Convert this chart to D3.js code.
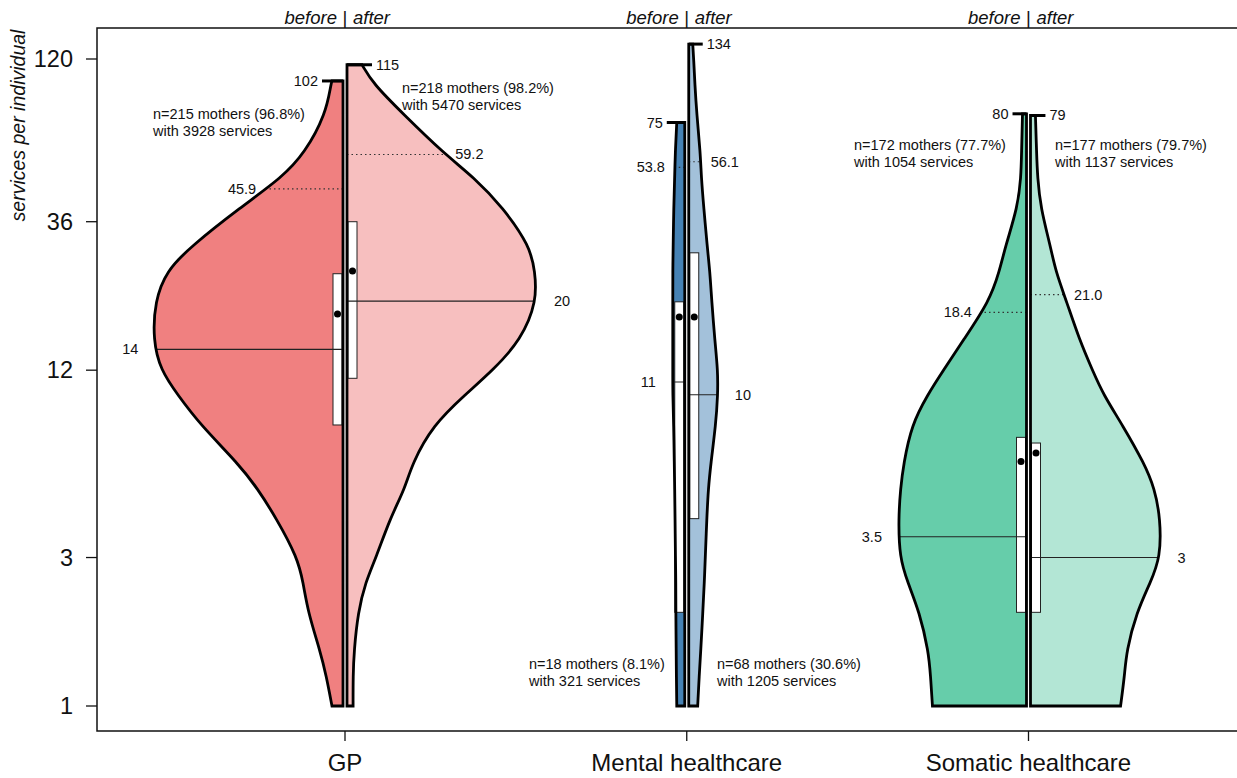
<!DOCTYPE html>
<html><head><meta charset="utf-8">
<script src="https://cdn.jsdelivr.net/npm/d3@7"></script>
<style>body{margin:0;background:#fff} text{font-family:"Liberation Sans",Arial,sans-serif;fill:#111}</style>
</head><body><svg id="c" width="1237" height="778"></svg>
<script>
// ---------------- data ----------------
const categories = ["GP", "Mental healthcare", "Somatic healthcare"];
const periods = ["before", "after"];
const yTicks = [1, 3, 12, 36, 120];
// service levels at which the density of each half-violin was read
const levels = [1, 1.25, 1.5, 2, 2.5, 3, 4, 5, 6, 8, 10, 12, 15, 20, 25, 30, 40, 50, 60, 80, 100, 120];
// relative density (percent of widest half-violin) at each level, up to the maximum value
const densGPBefore = [5.8, 8.8, 12, 18.4, 21, 24, 35, 45, 55, 75, 87, 96, 100, 99, 93, 80, 54, 32, 20, 9, 6.3];
const densGPAfter  = [3.2, 3.2, 3.7, 5.8, 9.7, 15.3, 22.6, 30.5, 34.2, 45.3, 62.1, 76.8, 91.6, 100, 98.9, 96.3, 82.1, 66.8, 50.5, 29.5, 13.7];
const densMHBefore = [4.2, 4.4, 4.5, 4.7, 4.7, 4.9, 5.1, 5.3, 5.5, 5.8, 6.3, 6.3, 6.3, 6.3, 6.3, 6.1, 5.8, 5.3, 5.0];
const densMHAfter  = [4.7, 5.5, 6.3, 7.4, 8.2, 8.7, 9.5, 10.3, 11.6, 14.2, 15.3, 15.3, 13.7, 12.1, 11.1, 9.7, 7.9, 6.6, 6.1, 4.2, 3.2, 2.6];
const densSHBefore = [49.5, 50.5, 51.6, 56.3, 62.6, 66.8, 67.4, 66.3, 64.7, 60.5, 52.1, 43.7, 33.2, 19.5, 14.2, 11.1, 4.7, 2.9, 2.6];
const densSHAfter  = [47.4, 49.5, 50.5, 55.8, 63.2, 68.4, 68.4, 65.3, 60, 48.4, 38.4, 32.6, 25.8, 18.9, 13.2, 10.5, 5.3, 3.7, 3.2];
// per half-violin: GP before, GP after, MH before, MH after, SH before, SH after
const maxValues  = [102, 115, 75, 134, 80, 79];
const densAtMax  = [5.8, 7.9, 4.2, 2.1, 2.1, 2.6];
const medians    = [14, 20, 11, 10, 3.5, 3];
const p90        = [45.9, 59.2, 53.8, 56.1, 18.4, 21.0];
const q1         = [8, 11.3, 2, 4, 2, 2];
const q3         = [24.5, 36, 19.9, 28.6, 7.3, 7.0];
const means      = [18.2, 25, 17.8, 17.8, 6.1, 6.5];
const nMothers   = [215, 218, 18, 68, 172, 177];
const pctMothers = ["96.8", "98.2", "8.1", "30.6", "77.7", "79.7"];
const nServices  = [3928, 5470, 321, 1205, 1054, 1137];

// ---------------- layout ----------------
const densities = [densGPBefore, densGPAfter, densMHBefore, densMHAfter, densSHBefore, densSHAfter];
const colors = ["#F08080", "#F7BFBF", "#4682B4", "#A3C1DA", "#66CDAA", "#B3E6D5"];
const annotPos = [[153,114],[402,88],[529,664],[717,664],[854,145],[1055,145]];

const svg = d3.select("#c");
const y = d3.scaleLog().domain([1, 120]).range([706, 59]);
const x = d3.scaleLinear().domain([0, 2]).range([345, 1028.5]);
const w = d3.scaleLinear().domain([0, 100]).range([0, 190]);
const gap = 2;
const frame = {l: 97, t: 28, b: 731, r: 1300};

// frame
svg.append("path")
  .attr("d", `M${frame.r},${frame.t}H${frame.l}V${frame.b}H${frame.r}`)
  .attr("fill", "none").attr("stroke", "#111").attr("stroke-width", 1.5);

// y axis
const yAx = svg.append("g");
yTicks.forEach(t => {
  yAx.append("line").attr("x1", frame.l - 11).attr("x2", frame.l).attr("y1", y(t)).attr("y2", y(t))
    .attr("stroke", "#111").attr("stroke-width", 1.3);
  yAx.append("text").attr("x", 73).attr("y", y(t) + 8.3).attr("text-anchor", "end")
    .attr("font-size", 23.5).text(t);
});
svg.append("text").attr("transform", "translate(25,125.5) rotate(-90)")
  .attr("text-anchor", "middle").attr("font-size", 19.5).attr("font-style", "italic")
  .text("services per individual");

// x axis
categories.forEach((c, i) => {
  svg.append("line").attr("x1", x(i)).attr("x2", x(i)).attr("y1", frame.b).attr("y2", frame.b + 10)
    .attr("stroke", "#111").attr("stroke-width", 1.3);
  svg.append("text").attr("x", x(i)).attr("y", 771).attr("text-anchor", "middle")
    .attr("font-size", 24).text(c);
  // before | after header
  svg.append("text").attr("x", x(i) - 8).attr("y", 24).attr("text-anchor", "end")
    .attr("font-size", 18.5).attr("font-style", "italic").text(periods[0]);
  svg.append("text").attr("x", x(i)).attr("y", 24).attr("text-anchor", "middle")
    .attr("font-size", 18.5).text("|");
  svg.append("text").attr("x", x(i) + 8).attr("y", 24).attr("text-anchor", "start")
    .attr("font-size", 18.5).attr("font-style", "italic").text(periods[1]);
});

function widthAt(pts, v) {
  for (let k = 0; k < pts.length - 1; k++) {
    const a = pts[k], b = pts[k + 1];
    if (v >= a[0] && v <= b[0]) {
      const t = (Math.log(v) - Math.log(a[0])) / (Math.log(b[0]) - Math.log(a[0]));
      return w(a[1] + t * (b[1] - a[1]));
    }
  }
  return w(pts[pts.length - 1][1]);
}
const fmtMed = d => String(d);
const fmtP90 = d => d.toFixed(1);

const defs = svg.append("defs");
densities.forEach((dens, i) => {
  const cat = Math.floor(i / 2), side = i % 2 === 0 ? -1 : 1;
  const inner = x(cat) + side * gap;
  const pts = dens.map((d, k) => [levels[k], d]);
  pts.push([maxValues[i], densAtMax[i]]);
  const area = d3.area().curve(d3.curveBasis)
    .y(d => y(d[0])).x0(inner).x1(d => inner + side * w(d[1]));
  const dPath = area(pts);
  defs.append("clipPath").attr("id", "clip" + i).append("path").attr("d", dPath);
  const g = svg.append("g");
  g.append("path").attr("d", dPath).attr("fill", colors[i]).attr("stroke", "none");
  // box
  g.append("rect")
    .attr("x", side < 0 ? inner - 10 : inner + 1).attr("width", 9)
    .attr("y", y(q3[i])).attr("height", y(q1[i]) - y(q3[i]))
    .attr("fill", "#fff").attr("stroke", "#222").attr("stroke-width", 1);
  // median and p90 lines clipped to violin
  const cl = g.append("g").attr("clip-path", `url(#clip${i})`);
  cl.append("line").attr("x1", inner).attr("x2", inner + side * 300)
    .attr("y1", y(medians[i])).attr("y2", y(medians[i]))
    .attr("stroke", "#222").attr("stroke-width", 1.1);
  cl.append("line").attr("x1", inner).attr("x2", inner + side * 300)
    .attr("y1", y(p90[i])).attr("y2", y(p90[i]))
    .attr("stroke", "#333").attr("stroke-width", 1.2).attr("stroke-dasharray", "1.5,3");
  // outline
  g.append("path").attr("d", dPath).attr("fill", "none").attr("stroke", "#000")
    .attr("stroke-width", 2.8).attr("stroke-linejoin", "miter").attr("stroke-miterlimit", 3);
  // mean
  g.append("circle").attr("cx", inner + side * 5.5).attr("cy", y(means[i])).attr("r", 3.5).attr("fill", "#000");
  // max tick
  const tickEnd = inner + side * (w(densAtMax[i]) + 10);
  g.append("line").attr("x1", inner).attr("x2", tickEnd)
    .attr("y1", y(maxValues[i])).attr("y2", y(maxValues[i]))
    .attr("stroke", "#000").attr("stroke-width", 3);
  const anchor = side < 0 ? "end" : "start";
  g.append("text").attr("x", tickEnd + side * 4).attr("y", y(maxValues[i]))
    .attr("dominant-baseline", "central").attr("text-anchor", anchor).attr("font-size", 14.5)
    .text(maxValues[i]);
  // median label
  g.append("text").attr("x", inner + side * (widthAt(pts, medians[i]) + 17)).attr("y", y(medians[i]))
    .attr("dominant-baseline", "central").attr("text-anchor", anchor).attr("font-size", 14.5)
    .text(fmtMed(medians[i]));
  // p90 label
  g.append("text").attr("x", inner + side * (widthAt(pts, p90[i]) + 10)).attr("y", y(p90[i]))
    .attr("dominant-baseline", "central").attr("text-anchor", anchor).attr("font-size", 14.5)
    .text(fmtP90(p90[i]));
  // annotation
  const [ax, ay] = annotPos[i];
  g.append("text").attr("x", ax).attr("y", ay).attr("dominant-baseline", "central")
    .attr("font-size", 14.5).text(`n=${nMothers[i]} mothers (${pctMothers[i]}%)`);
  g.append("text").attr("x", ax).attr("y", ay + 17).attr("dominant-baseline", "central")
    .attr("font-size", 14.5).text(`with ${nServices[i]} services`);
});
</script></body></html>
